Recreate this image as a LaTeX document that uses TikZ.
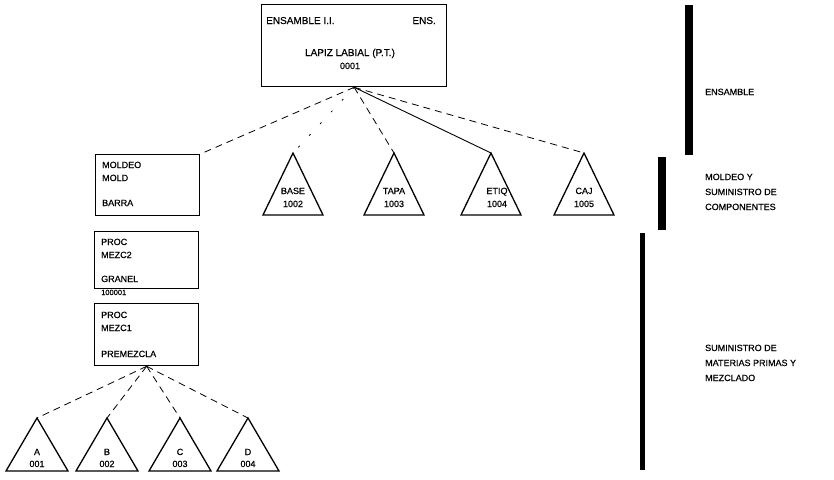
\documentclass[tikz,border=0pt]{standalone}
\usepackage{fontspec}
\setmainfont{Liberation Sans}[FakeBold=0.5]
\begin{document}
\begin{tikzpicture}[x=1pt,y=-1pt,
  box/.style={draw, line width=1.3pt, inner sep=0pt, anchor=north west},
  txt/.style={font=\fontsize{9}{10}\selectfont, inner sep=0pt, anchor=base west},
  hdtxt/.style={font=\fontsize{10}{11}\selectfont, inner sep=0pt, anchor=base west},
  ttxt/.style={font=\fontsize{9}{10}\selectfont, inner sep=0pt, anchor=base},
  tri/.style={draw, line width=1.3pt, line join=miter},
  link/.style={line width=0.9pt},
  faint/.style={line width=0.8pt, dash pattern=on 7pt off 5pt},
  bar/.style={fill=black}]
\useasboundingbox (0,0) rectangle (834,479);

% ---- finished product ----
\node[box, minimum width=185pt, minimum height=82pt] (top) at (261,4) {};
\node[hdtxt] (topa) at (266,24) {ENSAMBLE I.I.};
\node[hdtxt, anchor=base east] (topb) at (436,24) {ENS.};
\node[hdtxt, anchor=base] (topc) at (350,56) {LAPIZ LABIAL (P.T.)};
\node[txt, anchor=base] (topd) at (350,69) {0001};

% ---- moulding and components ----
\node[box, minimum width=104pt, minimum height=61pt] (mold) at (95,154) {};
\node[txt] (molda) at (102,168) {MOLDEO};
\node[txt] (moldb) at (102,181) {MOLD};
\node[txt] (moldc) at (102,206) {BARRA};

\foreach \n/\x/\a/\b/\dx in {base/293/BASE/1002/0, tapa/394/TAPA/1003/0,
                             etiq/491/ETIQ/1004/6, caj/584/CAJ/1005/0}{
  \coordinate (\n) at (\x,153);
  \draw[tri] (\n) -- ++(-30,62) -- ++(60,0) -- cycle;
  \node[ttxt] (\n-name) at (\x+\dx,194) {\a};
  \node[ttxt] (\n-code) at (\x+\dx,207) {\b};
}

% ---- mixing ----
\node[box, minimum width=104pt, minimum height=57pt] (mezcb) at (94,231) {};
\node[txt] (mezcba) at (101,245) {PROC};
\node[txt] (mezcbb) at (101,258) {MEZC2};
\node[txt] (mezcbc) at (101,282) {GRANEL};
\node[txt, font=\fontsize{7.5}{8}\selectfont] (mezcbd) at (101,295) {100001};

\node[box, minimum width=104pt, minimum height=62pt] (mezca) at (94,303) {};
\node[txt] (mezcaa) at (101,318) {PROC};
\node[txt] (mezcab) at (101,331) {MEZC1};
\node[txt] (mezcac) at (101,357) {PREMEZCLA};

\foreach \n/\x/\a/\b in {rawa/37/A/001, rawb/107/B/002, rawc/180/C/003, rawd/248/D/004}{
  \coordinate (\n) at (\x,418);
  \draw[tri] (\n) -- ++(-31,53) -- ++(62,0) -- cycle;
  \node[ttxt] (\n-name) at (\x,455) {\a};
  \node[ttxt] (\n-code) at (\x,467) {\b};
}

% ---- connectors ----
\draw[faint] (top.south) -- (mold.north east);
\draw[faint, dash pattern=on 2pt off 14pt] (top.south) -- (base);
\draw[faint] (top.south) -- (tapa);
\draw[link] (top.south) -- (etiq);
\draw[faint] (top.south) -- (caj);
\foreach \n in {rawa,rawb,rawc,rawd}
  \draw[faint] (mezca.south) -- (\n);

% ---- stage bars and labels ----
\fill[bar] (685,5) rectangle (693,155);
\fill[bar] (658,157) rectangle (666,230);
\fill[bar] (640,233) rectangle (645,470);

\node[txt] (stga) at (705,95) {ENSAMBLE};
\node[txt] (stgb1) at (705,180) {MOLDEO Y};
\node[txt] (stgb2) at (705,195) {SUMINISTRO DE};
\node[txt] (stgb3) at (705,210) {COMPONENTES};
\node[txt] (stgc1) at (705,351) {SUMINISTRO DE};
\node[txt] (stgc2) at (705,366) {MATERIAS PRIMAS Y};
\node[txt] (stgc3) at (705,381) {MEZCLADO};
\end{tikzpicture}
\end{document}
